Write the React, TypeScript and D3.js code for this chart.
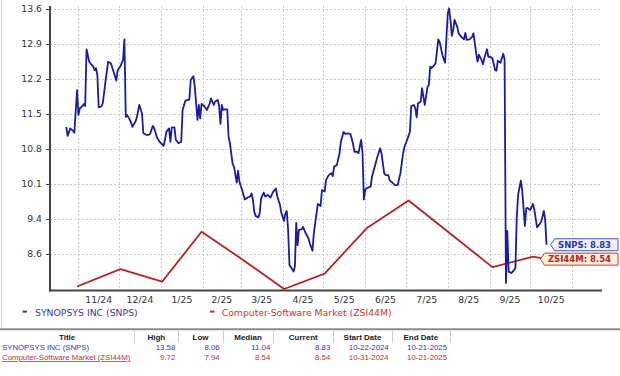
import React from 'react';
import * as d3 from 'd3';

// ---------- data ----------
// SNPS: day offset from 2024-10-22 and value
const snpsDays = [
  1, 2, 4, 6, 7, 9, 10, 11, 13, 14, 15, 16, 18, 20, 21, 22, 23, 24, 25, 27, 28, 30, 32, 34, 36, 38, 39, 41, 43, 44,
  45, 46, 48, 49, 50, 52, 53, 55, 57, 58, 60, 62, 63, 65, 66, 68, 70, 73, 74, 75, 77, 78, 79, 81, 82, 84, 86, 87, 89,
  90, 92, 93, 95, 96, 97, 98, 99, 100, 101, 103, 105, 107, 108, 110, 111, 113, 114, 115, 116, 117, 118, 120, 121, 122,
  124, 125, 127, 128, 129, 130, 131, 133, 135, 137, 138, 139, 140, 141, 143, 144, 145, 147, 148, 150, 152, 154, 156,
  157, 159, 160, 162, 163, 164, 165, 166, 168, 169, 170, 171, 172, 173, 175, 176, 178, 180,
  181, 183, 184, 186, 187, 189, 190, 192, 193, 195, 197, 198, 199, 201, 203, 204, 206, 207, 209, 211, 213, 214, 216,
  217, 219, 220, 221, 222, 224, 226, 227, 229, 230, 231, 233, 234, 236, 237, 239, 240, 242, 244, 246, 248, 250, 251,
  253, 255, 256, 258, 259, 260, 261, 263, 264, 265, 266, 268, 269, 270,
  271, 273, 274, 276, 277, 279, 280, 281, 283, 284, 285, 286, 287, 288, 290, 291, 293, 295, 296, 297, 299, 301, 302,
  304, 305, 306, 308, 309, 310, 312, 313, 315, 316, 318, 319, 320, 322, 323, 324, 325, 326, 327, 328, 330, 332, 333,
  334, 335, 337, 338, 340, 341, 342, 344, 346, 347, 349, 351, 352, 354, 355, 356,
];
const snpsValues = [
  11.2, 11.02, 11.17, 11.12, 11.08, 11.94, 11.44, 11.57, 11.62, 11.66, 11.62, 12.76, 12.51, 12.44, 12.41, 12.34, 12.38,
  12.24, 11.59, 11.61, 11.67, 12.11, 12.51, 12.48, 12.31, 12.13, 12.34, 12.42, 12.54, 12.96,
  11.4, 11.44, 11.34, 11.28, 11.2, 11.3, 11.37, 11.64, 11.47, 11.07, 11.04, 11.04, 11.06, 11.22, 11.17, 10.99, 10.9,
  10.82, 10.94, 11.1, 11.17, 10.9, 11.19, 11.19, 10.94, 10.87, 10.9, 11.54, 11.72,
  11.74, 11.75, 12.14, 12.22, 12.01, 11.67, 11.34, 11.64, 11.37, 11.66, 11.62, 11.54, 11.67, 11.77, 11.64, 11.71, 11.74,
  11.62, 11.26, 11.64, 11.54, 11.55, 11.55, 11.0, 10.87, 10.45, 10.4, 10.08, 10.32, 10.1, 10.01, 9.93, 9.74, 9.78, 9.8,
  9.86, 9.73, 9.49, 9.41, 9.38, 9.46, 9.76, 9.88, 9.8, 9.83, 9.78, 9.9, 9.96, 9.8, 9.63, 9.47, 9.31, 9.46, 9.51, 9.13,
  8.42, 8.34, 8.29, 8.39, 9.27, 8.82, 9.13, 9.14, 9.19, 9.06, 8.96,
  8.86, 8.71, 9.06, 9.46, 9.65, 9.61, 9.93, 9.9, 10.13, 10.23, 10.27, 10.21, 10.4, 10.43, 10.67, 10.9, 11.1, 11.06,
  11.07, 11.06, 10.86, 10.7, 10.7, 10.67, 10.94, 10.67, 9.74, 9.94, 9.98, 10.0, 10.2, 10.4, 10.5, 10.6, 10.77, 10.67,
  10.27, 10.23, 10.23, 10.13, 10.08, 10.03, 10.03, 10.27, 10.67, 10.8, 10.94, 11.1, 11.62, 11.64, 11.57, 11.39, 11.67,
  11.71, 11.98, 11.81, 11.64, 12.0, 12.04, 12.41,
  12.38, 12.44, 12.48, 12.96, 12.91, 12.65, 12.56, 12.49, 13.48, 13.58, 13.35, 13.03, 13.15, 13.35, 13.21, 13.08, 13.01,
  12.96, 13.09, 12.95, 12.96, 13.01, 13.08, 12.68, 12.51, 12.65, 12.54, 12.46, 12.58, 12.76, 12.61, 12.6, 12.58, 12.34,
  12.33, 12.53, 12.49, 12.58, 12.67, 12.56, 8.06, 9.11, 8.29, 8.26, 8.32, 8.36, 9.39, 9.83, 10.12, 9.93, 9.21, 9.56,
  9.57, 9.53, 9.65, 9.53, 9.18, 9.25, 9.29, 9.51, 9.33, 8.83,
];
// Computer-Software Market: day offset from 2024-10-22 and value
const zsiDays = [9, 41, 72, 101, 132, 162, 192, 223, 254, 285, 316, 346, 356];
const zsiValues = [7.99, 8.34, 8.09, 9.09, 8.52, 7.94, 8.25, 9.16, 9.72, 9.05, 8.38, 8.59, 8.54];

const seriesNames = ['SYNOPSYS INC (SNPS)', 'Computer-Software Market (ZSI44M)'];
const currentLabels = ['SNPS: 8.83', 'ZSI44M: 8.54'];
const currentValues = [8.83, 8.54];

const xTickLabels = ['11/24', '12/24', '1/25', '2/25', '3/25', '4/25', '5/25', '6/25', '7/25', '8/25', '9/25', '10/25'];
const yTickLabels = ['8.6', '9.4', '10.1', '10.8', '11.5', '12.2', '12.9', '13.6'];
const yLow = 7.94;
const yHigh = 13.58;

const tableHeaders = ['Title', 'High', 'Low', 'Median', 'Current', 'Start Date', 'End Date'];
const tableRow1 = ['SYNOPSYS INC (SNPS)', '13.58', '8.06', '11.04', '8.83', '10-22-2024', '10-21-2025'];
const tableRow2 = ['Computer-Software Market (ZSI44M)', '9.72', '7.94', '8.54', '8.54', '10-31-2024', '10-21-2025'];

// ---------- helpers ----------
const FONT = '"DejaVu Sans", Verdana, sans-serif';
const TFONT = '"Liberation Sans", Arial, sans-serif';
const BLUE = '#1c1ca0';
const RED = '#b42323';

function measure(text: string, font: string): number {
  const c = document.createElement('canvas').getContext('2d');
  if (!c) return text.length * 5;
  c.font = font;
  return c.measureText(text).width;
}

export default function App() {
  const W = 620;
  const H = 376;
  const plotL = 50;
  const plotR = 602;
  const plotT = 6;
  const plotB = 289;
  const DAY = 86400000;
  const base = Date.UTC(2024, 9, 22);
  const toDate = (off: number) => new Date(base + off * DAY);

  const x = d3
    .scaleUtc()
    .domain([new Date(Date.UTC(2024, 9, 11)), new Date(Date.UTC(2025, 10, 23))])
    .range([plotL, plotR]);
  const y = d3.scaleLinear().domain([yLow, yHigh]).range([plotB, 8.5]);

  const yTicks = yTickLabels.map((_, i) => yLow + ((i + 1) * (yHigh - yLow)) / 8);
  const months = d3.utcMonth.range(new Date(Date.UTC(2024, 10, 1)), new Date(Date.UTC(2025, 10, 2)));

  const snps: [number, number][] = snpsDays.map((d, i) => [d, snpsValues[i]]);
  const zsi: [number, number][] = zsiDays.map((d, i) => [d, zsiValues[i]]);
  const line = d3
    .line<[number, number]>()
    .x((d) => x(toDate(d[0])))
    .y((d) => y(d[1]));

  const tagFont = `bold 8.5px ${FONT}`;
  const tagStyles = [
    { stroke: '#4455cc', fill: '#eef0fb', text: '#2a38a0' },
    { stroke: '#c43c3c', fill: '#fcf0de', text: '#b42323' },
  ];

  const colEdges = [0, 134.3, 178.3, 222.7, 273.3, 333.3, 391.7, 450];
  const rowColors = ['#3434b0', '#c03030'];

  return (
    <svg
      width={W}
      height={H}
      viewBox={`0 0 ${W} ${H}`}
      style={{ position: 'absolute', left: 0, top: 0, background: '#fff' }}
    >
      <rect x={0} y={0} width={W} height={H} fill="#fff" />
      <line x1={1.5} x2={1.5} y1={0} y2={328} stroke="#d8d8d8" strokeWidth={1} />

      {/* gridlines */}
      <g stroke="#c8c8c8" strokeWidth={1} strokeDasharray="2,2" shapeRendering="crispEdges">
        {yTicks.map((t, i) => (
          <line key={'hy' + i} x1={plotL} x2={plotR} y1={Math.round(y(t)) + 0.5} y2={Math.round(y(t)) + 0.5} />
        ))}
        {months.map((m, i) => (
          <line key={'vx' + i} x1={Math.round(x(m)) + 0.5} x2={Math.round(x(m)) + 0.5} y1={plotT} y2={plotB + 1} />
        ))}
      </g>

      {/* y labels */}
      <g fontFamily={FONT} fontSize={9.3} fill="#333" textAnchor="end">
        {yTicks.map((t, i) => (
          <text key={'yl' + i} x={42} y={y(t) + 3.4}>
            {yTickLabels[i]}
          </text>
        ))}
      </g>
      <g stroke="#444" strokeWidth={1}>
        {yTicks.map((t, i) => (
          <line key={'yt' + i} x1={46} x2={50} y1={Math.round(y(t)) + 0.5} y2={Math.round(y(t)) + 0.5} />
        ))}
      </g>

      {/* x labels */}
      <g fontFamily={FONT} fontSize={9.3} fill="#333" textAnchor="middle">
        {xTickLabels.map((lab, i) => {
          const a = x(months[i]);
          const b = x(d3.utcMonth.offset(months[i], 1));
          return (
            <text key={'xl' + i} x={(a + b) / 2} y={303.2}>
              {lab}
            </text>
          );
        })}
      </g>

      {/* series */}
      <path d={line(zsi) || ''} fill="none" stroke={RED} strokeWidth={1.8} strokeLinejoin="round" />
      <path d={line(snps) || ''} fill="none" stroke={BLUE} strokeWidth={1.8} strokeLinejoin="round" />

      {/* axes */}
      <line x1={plotL} x2={plotL} y1={plotT} y2={291.5} stroke="#444" strokeWidth={2} />
      <line x1={plotL - 1} x2={plotR} y1={290.5} y2={290.5} stroke="#444" strokeWidth={2} />

      {/* current value tags */}
      {currentLabels.map((lab, i) => {
        const cy = y(currentValues[i]);
        const w = measure(lab, tagFont);
        const textEnd = 611;
        const s = textEnd - w;
        const x0 = s - 3.5;
        const tip = x0 - 4;
        const x1 = 618;
        const h = 12;
        const st = tagStyles[i];
        return (
          <g key={'tag' + i}>
            <path
              d={`M${tip},${cy} L${x0},${cy - h / 2} L${x1},${cy - h / 2} L${x1},${cy + h / 2} L${x0},${cy + h / 2} Z`}
              fill={st.fill}
              stroke={st.stroke}
              strokeWidth={1}
            />
            <text x={textEnd} y={cy + 3.1} textAnchor="end" fontFamily={FONT} fontSize={8.5} fontWeight="bold" fill={st.text}>
              {lab}
            </text>
          </g>
        );
      })}

      {/* legend */}
      <rect x={22.5} y={310.6} width={4.5} height={2} fill="#3a3aa6" />
      <text x={35} y={315.5} fontFamily={FONT} fontSize={9.3} fill="#3a3aa6">
        {seriesNames[0]}
      </text>
      <rect x={210} y={310.6} width={4.5} height={2} fill="#c03a3a" />
      <text x={221.7} y={315.5} fontFamily={FONT} fontSize={9.3} fill="#c03a3a">
        {seriesNames[1]}
      </text>

      {/* table */}
      <line x1={0} x2={W} y1={329.3} y2={329.3} stroke="#8c8c8c" strokeWidth={2} />
      <g stroke="#cfcfcf" strokeWidth={1}>
        {colEdges.slice(1).map((e, i) => (
          <line key={'cs' + i} x1={Math.round(e) + 0.5} x2={Math.round(e) + 0.5} y1={331} y2={343} />
        ))}
      </g>
      <g fontFamily={TFONT} fontSize={8} fontWeight="bold" fill="#222" textAnchor="middle">
        {tableHeaders.map((h, i) => (
          <text key={'th' + i} x={(colEdges[i] + colEdges[i + 1]) / 2} y={340}>
            {h}
          </text>
        ))}
      </g>
      {[tableRow1, tableRow2].map((row, r) => (
        <g key={'row' + r} fontFamily={TFONT} fontSize={7.8} fill={rowColors[r]}>
          {row.map((cell, i) =>
            i === 0 ? (
              <text key={'c' + i} x={2} y={350 + r * 10} textDecoration={r === 1 ? 'underline' : undefined}>
                {cell}
              </text>
            ) : (
              <text key={'c' + i} x={colEdges[i + 1] - 3} y={350 + r * 10} textAnchor="end">
                {cell}
              </text>
            )
          )}
        </g>
      ))}
    </svg>
  );
}
